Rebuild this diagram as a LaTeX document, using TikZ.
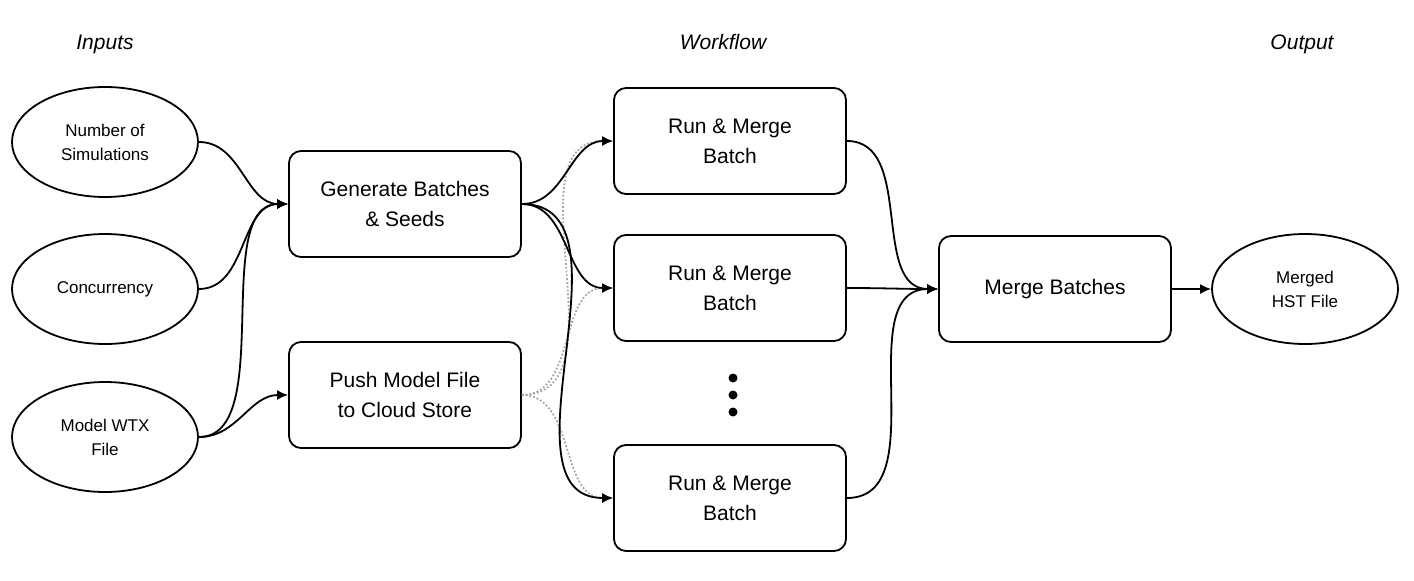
\documentclass[tikz,border=0pt]{standalone}
\usepackage{fontspec}
\setmainfont{Liberation Sans}
\usetikzlibrary{shapes.geometric,arrows.meta}
\begin{document}
\begin{tikzpicture}[x=1pt,y=-1pt,
  ell/.style={draw,line width=1.8pt,ellipse,minimum width=186pt,minimum height=110pt,align=center,font=\fontsize{17}{24}\selectfont},
  box/.style={draw,line width=1.8pt,rounded corners=12pt,minimum width=232pt,minimum height=106pt,align=center,font=\fontsize{21}{30}\selectfont},
  hd/.style={anchor=base,font=\fontsize{21}{24}\selectfont\itshape},
  con/.style={line width=1.8pt,-{Latex[length=11pt,width=10pt]}},
  dot/.style={line width=1.8pt,gray!70,dotted,-{Latex[length=11pt,width=10pt]}}]
\useasboundingbox (0,0) rectangle (1414,581);
\node[hd] (h1) at (105,49) {Inputs};
\node[hd] (h2) at (723,49) {Workflow};
\node[hd] (h3) at (1302,49) {Output};
\node[ell] (n) at (105,142) {Number of\\Simulations};
\node[ell] (c) at (105,289) {Concurrency};
\node[ell] (m) at (105,437) {Model WTX\\File};
\node[box] (g) at (405,204) {Generate Batches\\\& Seeds};
\node[box] (p) at (405,395) {Push Model File\\to Cloud Store};
\node[box] (r1) at (730,141) {Run \& Merge\\Batch};
\node[box] (r2) at (730,288) {Run \& Merge\\Batch};
\node[box] (r3) at (730,498) {Run \& Merge\\Batch};
\node[box] (mb) at (1055,289) {Merge Batches};
\node[ell] (o) at (1305,289) {Merged\\HST File};
\foreach \y in {378,395,412} \fill (733,\y) circle (4.5pt);
\coordinate (gi) at (g.west);
\draw[dot] (p.east) to[out=0,in=180] (r1.west);
\draw[dot] (p.east) to[out=0,in=180] (r2.west);
\draw[dot] (p.east) to[out=0,in=180] (r3.west);
\draw[con] (n.east) to[out=0,in=180] (gi);
\draw[con] (c.east) to[out=0,in=180] (gi);
\draw[con] (m.east) to[out=0,in=180,looseness=0.8] (gi);
\draw[con] (m.east) to[out=0,in=180] (p.west);
\draw[con] (g.east) to[out=0,in=180] (r1.west);
\draw[con] (g.east) to[out=0,in=180] (r2.west);
\draw[con] (g.east) to[out=0,in=180] (r3.west);
\draw[con] (r1.east) to[out=0,in=180] (mb.west);
\draw[con] (r2.east) to[out=0,in=180] (mb.west);
\draw[con] (r3.east) to[out=0,in=180] (mb.west);
\draw[con] (mb.east) -- (o.west);
\end{tikzpicture}
\end{document}
